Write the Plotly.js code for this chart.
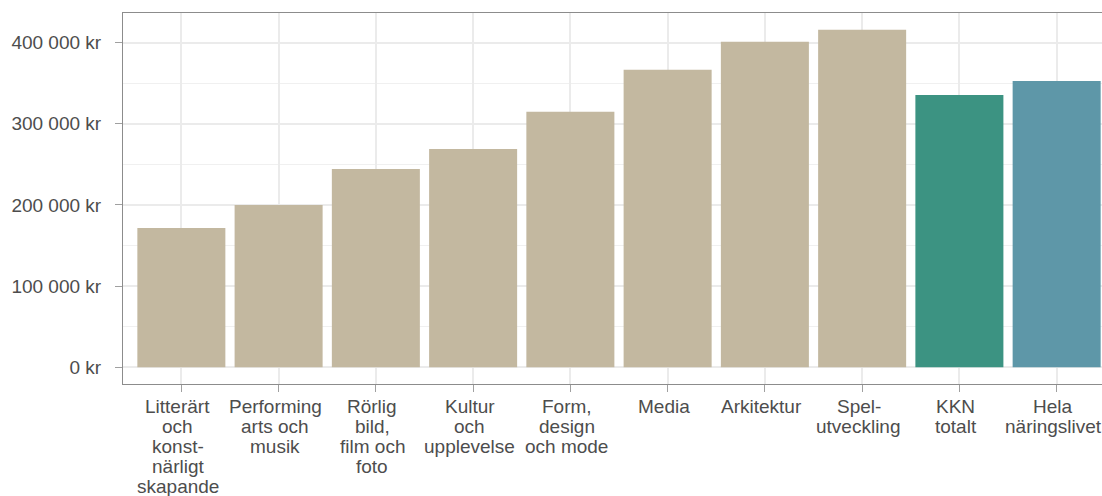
<!DOCTYPE html>
<html>
<head>
<meta charset="utf-8">
<script src="https://cdn.plot.ly/plotly-3.0.1.min.js"></script>
<style>
  html, body { margin: 0; padding: 0; width: 1102px; height: 496px; overflow: hidden; background: #fff; }
  #chart { width: 1130px; height: 496px; }
</style>
</head>
<body>
<div id="chart"></div>
<script>
// ---- data ----
const categories = [
  "Litterärt\noch\nkonst-\nnärligt\nskapande",
  "Performing\narts och\nmusik",
  "Rörlig\nbild,\nfilm och\nfoto",
  "Kultur\noch\nupplevelse",
  "Form,\ndesign\noch mode",
  "Media",
  "Arkitektur",
  "Spel-\nutveckling",
  "KKN\ntotalt",
  "Hela\nnäringslivet"
];
const values = [171600, 200000, 244400, 269000, 314700, 366500, 401000, 415800, 335600, 352900];
const groups = ["del", "del", "del", "del", "del", "del", "del", "del", "kkn", "hela"];
const groupColors = { del: "#C3B8A0", kkn: "#3C9382", hela: "#5E97A8" };
const yTickValues = [0, 100000, 200000, 300000, 400000];
const yTickLabels = ["0 kr", "100 000 kr", "200 000 kr", "300 000 kr", "400 000 kr"];

// ---- chart ----
const ids = categories.map((c, i) => "c" + i);
const textColor = "#4D4D4D";
const fontFamily = "'Liberation Sans', Arial, sans-serif";

const trace = {
  type: "bar",
  x: ids,
  y: values,
  marker: { color: groups.map(g => groupColors[g]) },
  hoverinfo: "skip"
};

const annotations = [];
categories.forEach((label, i) => {
  label.split("\n").forEach((line, j) => {
    annotations.push({
      x: ids[i], xref: "x", y: 0, yref: "paper",
      yanchor: "top", xanchor: "center",
      xshift: -3.5,
      yshift: -(10 + 20 * j),
      text: line, showarrow: false,
      font: { family: fontFamily, size: 19, color: textColor }
    });
  });
});

const ymax = Math.max(...values);
const layout = {
  width: 1130,
  height: 496,
  margin: { l: 123, r: 15, t: 13, b: 112 },
  paper_bgcolor: "#fff",
  plot_bgcolor: "#fff",
  showlegend: false,
  bargap: 0.095,
  font: { family: fontFamily, size: 19, color: textColor },
  xaxis: {
    type: "category",
    range: [-0.6, categories.length - 0.4],
    showgrid: true, gridcolor: "#EBEBEB", gridwidth: 2,
    ticks: "outside", ticklen: 7, tickcolor: "#A0A0A0", tickwidth: 1,
    showticklabels: false,
    showline: true, linecolor: "#8C8C8C", linewidth: 1, mirror: true,
    zeroline: false, fixedrange: true
  },
  yaxis: {
    range: [-0.05 * ymax, 1.05 * ymax],
    tickmode: "array", tickvals: yTickValues, ticktext: yTickLabels,
    showgrid: true, gridcolor: "#EBEBEB", gridwidth: 2,
    minor: { tickmode: "array", tickvals: [50000, 150000, 250000, 350000], showgrid: true, gridcolor: "#F0F0F0", gridwidth: 1, ticks: "" },
    ticks: "outside", ticklen: 7, tickcolor: "#A0A0A0", tickwidth: 1,
    ticklabelstandoff: 10,
    tickfont: { family: fontFamily, size: 19, color: textColor },
    showline: true, linecolor: "#8C8C8C", linewidth: 1, mirror: true,
    zeroline: false, fixedrange: true
  },
  annotations: annotations
};

Plotly.newPlot("chart", [trace], layout, { displayModeBar: false, staticPlot: true });
</script>
</body>
</html>
